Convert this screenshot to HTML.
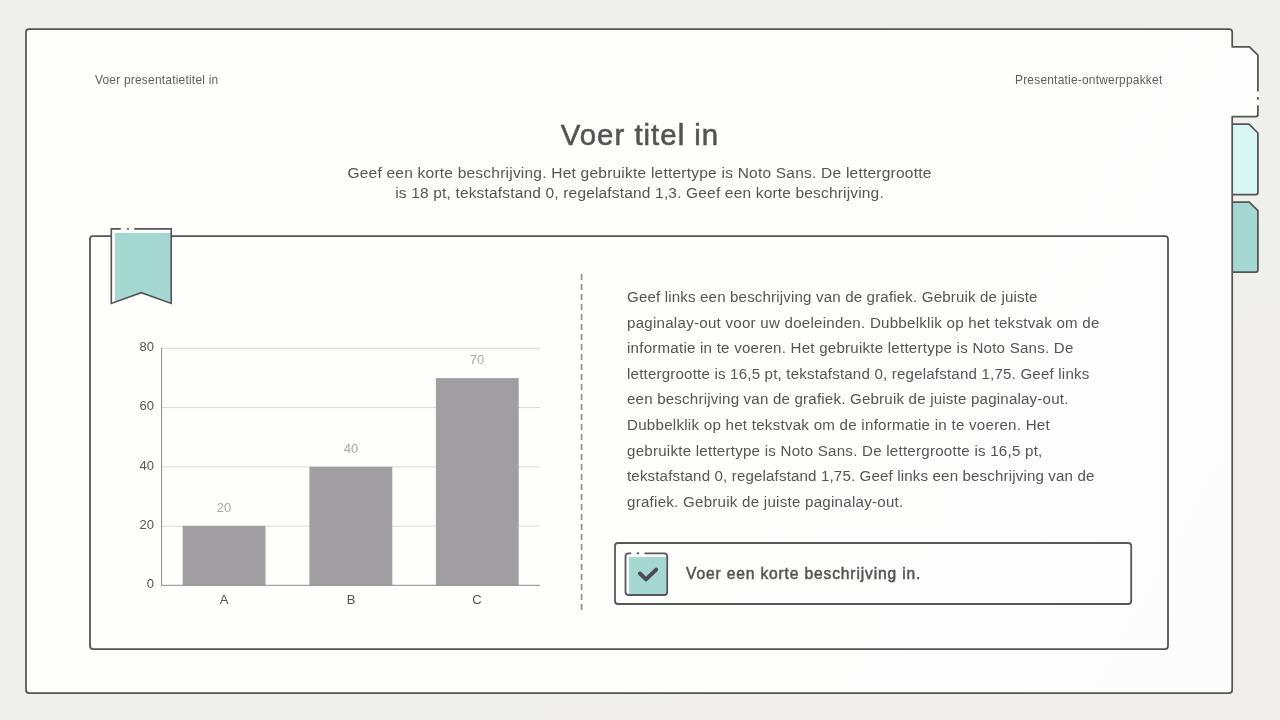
<!DOCTYPE html>
<html lang="nl">
<head>
<meta charset="utf-8">
<title>Voer titel in</title>
<style>
html,body{margin:0;padding:0;}
body{width:1280px;height:720px;overflow:hidden;position:relative;background:linear-gradient(150deg,#eff0ec 0%,#eff0ec 40%,#f0eeed 100%);font-family:"Liberation Sans",sans-serif;color:#555;}
svg.art{position:absolute;left:0;top:0;}
.t{position:absolute;white-space:nowrap;line-height:1;will-change:transform;}
.hdr{font-size:11.9px;color:#5e5e5e;letter-spacing:0.24px;top:75px;}
#hl{left:95px;}
#hr{left:1015px;}
#title{left:0;width:1280px;text-align:center;top:119.5px;font-size:29.4px;letter-spacing:1.0px;color:#545454;-webkit-text-stroke:0.55px #545454;}
.sub{left:0;width:1279px;text-align:center;font-size:15.5px;line-height:19.5px;color:#555;}
.pl{left:627px;font-size:15.1px;line-height:25.6px;color:#555;}
#call{left:686px;top:565.5px;font-size:15.6px;color:#545454;-webkit-text-stroke:0.5px #545454;letter-spacing:0.85px;}
.ylab{font-size:13px;color:#555;text-align:right;width:40px;left:114px;}
.vlab{font-size:13px;color:#a8a8a8;text-align:center;width:60px;}
.xlab{font-size:13px;color:#555;text-align:center;width:60px;top:593px;}
</style>
</head>
<body>
<svg class="art" width="1280" height="720" viewBox="0 0 1280 720">
  <defs>
    <linearGradient id="wg" gradientUnits="userSpaceOnUse" x1="0" y1="0" x2="1280" y2="720">
      <stop offset="0" stop-color="#fefefb"/>
      <stop offset="0.5" stop-color="#fefefd"/>
      <stop offset="1" stop-color="#fcfcfc"/>
    </linearGradient>
  </defs>
  <!-- frame fill -->
  <path d="M26,32 A3,3 0 0 1 29,29 L1229.2,29 A3,3 0 0 1 1232.2,32 L1232.2,46.8 L1249.5,46.8 L1257.9,55.2 L1257.9,114.5 A2,2 0 0 1 1255.9,116.5 L1232.2,116.5 L1232.2,690 A3,3 0 0 1 1229.2,693 L29,693 A3,3 0 0 1 26,690 Z" fill="url(#wg)" stroke="none"/>
  <!-- tabs 2 and 3 -->
  <path d="M1232.2,124.1 L1249,124.1 L1257.9,133 L1257.9,192.5 A2,2 0 0 1 1255.9,194.5 L1232.2,194.5" fill="#d6f7f3" stroke="#555653" stroke-width="1.75" stroke-linejoin="round"/>
  <path d="M1232.2,202.2 L1249.3,202.2 L1257.9,210.6 L1257.9,270 A2,2 0 0 1 1255.9,272 L1232.2,272" fill="#a5d8d2" stroke="#555653" stroke-width="1.75" stroke-linejoin="round"/>
  <!-- frame stroke -->
  <path d="M1257.9,105 L1257.9,114.5 A2,2 0 0 1 1255.9,116.5 L1232.2,116.5 L1232.2,690 A3,3 0 0 1 1229.2,693 L29,693 A3,3 0 0 1 26,690 L26,32 A3,3 0 0 1 29,29 L1229.2,29 A3,3 0 0 1 1232.2,32 L1232.2,46.8 L1249.5,46.8 L1257.9,55.2 L1257.9,91.8" fill="none" stroke="#555653" stroke-width="1.75" stroke-linejoin="round"/>
  <rect x="1257" y="91.5" width="1.8" height="13.8" fill="#fefefd"/>
  <path d="M1257.9,96.9 L1257.9,99.8" stroke="#555653" stroke-width="1.75"/>

  <!-- content box -->
  <rect x="90" y="236.1" width="1078" height="413" rx="3" ry="3" fill="url(#wg)" stroke="#555555" stroke-width="1.8"/>

  <!-- bookmark -->
  <path d="M111.3,228.9 L171.2,228.9 L171.2,303.4 L141.3,292.7 L111.3,303.4 Z" fill="url(#wg)"/>
  <path d="M115,233.1 L171.2,233.1 L171.2,303.4 L141.3,292.7 L115,302.1 Z" fill="#a6d8d2"/>
  <path d="M120.8,228.9 L111.3,228.9 L111.3,303.4 L141.3,292.7 L171.2,303.4 L171.2,228.9 L134.3,228.9" fill="none" stroke="#555555" stroke-width="1.6" stroke-linejoin="miter"/>
  <path d="M126.9,228.9 L128.9,228.9" stroke="#555555" stroke-width="1.6"/>

  <!-- chart -->
  <g stroke="#ddd8e0" stroke-width="1">
    <line x1="161.6" y1="348.3" x2="540" y2="348.3"/>
    <line x1="161.6" y1="407.6" x2="540" y2="407.6"/>
    <line x1="161.6" y1="466.9" x2="540" y2="466.9"/>
    <line x1="161.6" y1="526.2" x2="540" y2="526.2"/>
  </g>
  <g fill="#a09ea1">
    <rect x="182.7" y="525.8" width="82.8" height="59.5"/>
    <rect x="309.4" y="466.8" width="82.9" height="118.5"/>
    <rect x="435.9" y="378.1" width="82.8" height="207.2"/>
  </g>
  <line x1="161.6" y1="348" x2="161.6" y2="585.8" stroke="#8d8d8d" stroke-width="1"/>
  <line x1="161.1" y1="585.3" x2="540" y2="585.3" stroke="#8d8d8d" stroke-width="1"/>

  <!-- dashed divider -->
  <line x1="581.6" y1="274" x2="581.6" y2="611" stroke="#929292" stroke-width="1.8" stroke-dasharray="6 4"/>

  <!-- callout -->
  <rect x="615" y="543" width="516.2" height="61" rx="3" ry="3" fill="url(#wg)" stroke="#58575b" stroke-width="1.8"/>
  <rect x="629" y="557" width="37.7" height="37.2" fill="#a6d8d2"/>
  <path d="M631.2,553.3 L628.5,553.3 A3,3 0 0 0 625.5,556.3 L625.5,592 A3,3 0 0 0 628.5,595 L664.2,595 A3,3 0 0 0 667.2,592 L667.2,556.3 A3,3 0 0 0 664.2,553.3 L644.5,553.3" fill="none" stroke="#58575b" stroke-width="1.8"/>
  <path d="M636.7,553.3 L639.2,553.3" stroke="#58575b" stroke-width="1.8"/>
  <polyline points="639.9,573.5 646,579.4 656.2,569.6" fill="none" stroke="#4b4a50" stroke-width="4" stroke-linecap="round" stroke-linejoin="round"/>
</svg>

<div class="t hdr" id="hl">Voer presentatietitel in</div>
<div class="t hdr" id="hr">Presentatie-ontwerppakket</div>
<div class="t" id="title">Voer titel in</div>
<div class="t sub" style="top:163px;letter-spacing:0.225px">Geef een korte beschrijving. Het gebruikte lettertype is Noto Sans. De lettergrootte</div>
<div class="t sub" style="top:182.5px;letter-spacing:0.17px">is 18 pt, tekstafstand 0, regelafstand 1,3. Geef een korte beschrijving.</div>

<div class="t ylab" style="top:340px">80</div>
<div class="t ylab" style="top:399px">60</div>
<div class="t ylab" style="top:458.5px">40</div>
<div class="t ylab" style="top:518px">20</div>
<div class="t ylab" style="top:577px">0</div>
<div class="t vlab" style="left:194px;top:501px">20</div>
<div class="t vlab" style="left:321px;top:442px">40</div>
<div class="t vlab" style="left:447px;top:353px">70</div>
<div class="t xlab" style="left:194px">A</div>
<div class="t xlab" style="left:321px">B</div>
<div class="t xlab" style="left:447px">C</div>

<div class="t pl" style="top:284.0px;letter-spacing:0.158px">Geef links een beschrijving van de grafiek. Gebruik de juiste</div>
<div class="t pl" style="top:309.6px;letter-spacing:0.258px">paginalay-out voor uw doeleinden. Dubbelklik op het tekstvak om de</div>
<div class="t pl" style="top:335.2px;letter-spacing:0.233px">informatie in te voeren. Het gebruikte lettertype is Noto Sans. De</div>
<div class="t pl" style="top:360.8px;letter-spacing:0.191px">lettergrootte is 16,5 pt, tekstafstand 0, regelafstand 1,75. Geef links</div>
<div class="t pl" style="top:386.4px;letter-spacing:0.197px">een beschrijving van de grafiek. Gebruik de juiste paginalay-out.</div>
<div class="t pl" style="top:412.0px;letter-spacing:0.263px">Dubbelklik op het tekstvak om de informatie in te voeren. Het</div>
<div class="t pl" style="top:437.6px;letter-spacing:0.243px">gebruikte lettertype is Noto Sans. De lettergrootte is 16,5 pt,</div>
<div class="t pl" style="top:463.2px;letter-spacing:0.149px">tekstafstand 0, regelafstand 1,75. Geef links een beschrijving van de</div>
<div class="t pl" style="top:488.8px;letter-spacing:0.255px">grafiek. Gebruik de juiste paginalay-out.</div>

<div class="t" id="call">Voer een korte beschrijving in.</div>
</body>
</html>
